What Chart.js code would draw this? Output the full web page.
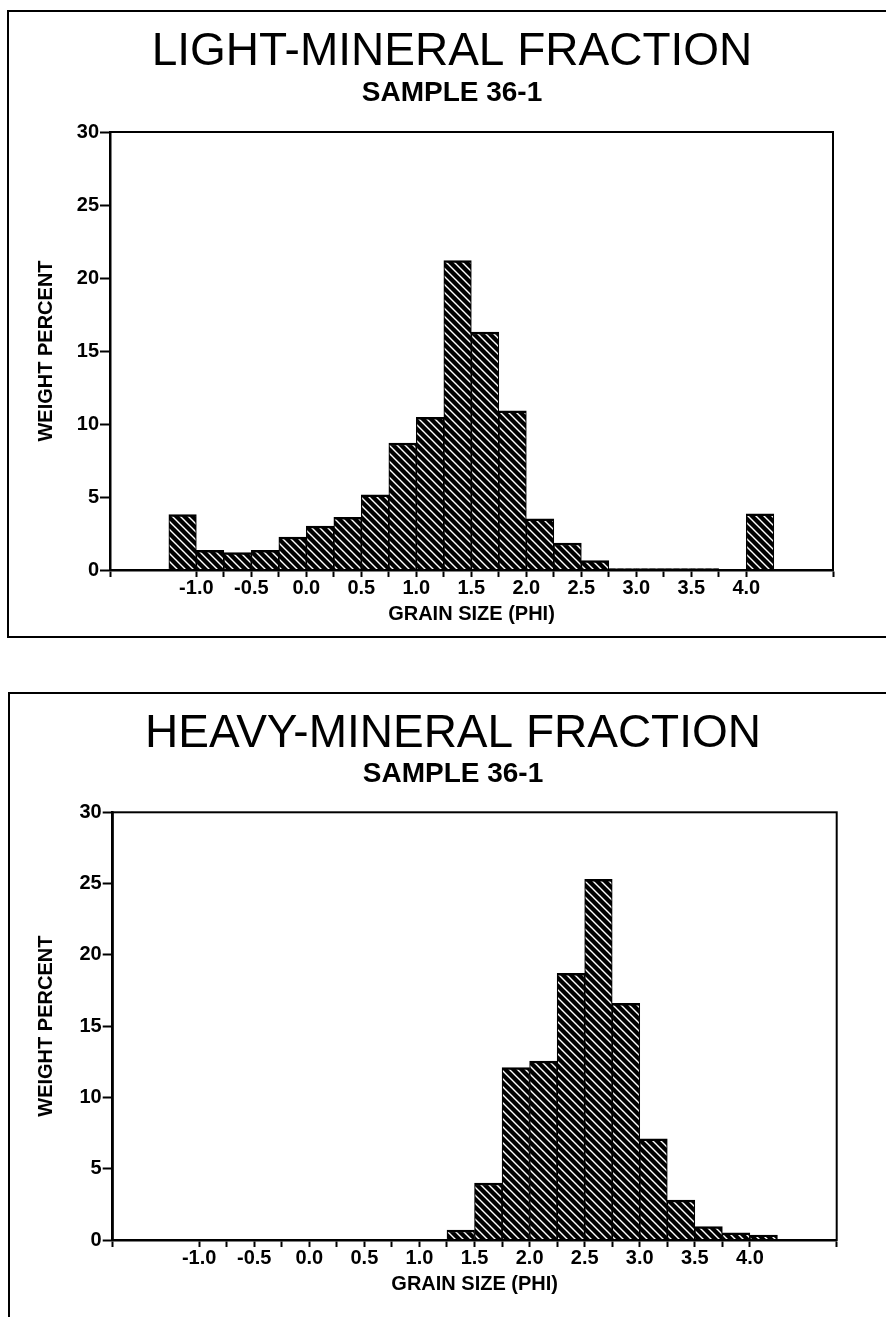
<!DOCTYPE html>
<html><head><meta charset="utf-8">
<script src="https://cdn.jsdelivr.net/npm/chart.js@4.4.1/dist/chart.umd.min.js"></script>
<style>
html,body{margin:0;padding:0;background:#fff;overflow:hidden;width:886px;height:1317px;}
.frame{position:absolute;box-sizing:border-box;border:2px solid #000;}
canvas{position:absolute;left:0;}
</style></head><body>
<div class="frame" style="left:7px;top:10px;width:930px;height:628px"></div>
<div class="frame" style="left:8px;top:692px;width:930px;height:700px"></div>
<canvas id="light" width="904" height="640" style="top:0px"></canvas>
<canvas id="heavy" width="906" height="637" style="top:680px"></canvas>
<script>
// ---- data ----
const binCenters = [-1.125, -0.875, -0.625, -0.375, -0.125, 0.125, 0.375, 0.625, 0.875, 1.125, 1.375,
                    1.625, 1.875, 2.125, 2.375, 2.625, 2.875, 3.125, 3.375, 3.625, 3.875, 4.125];
const lightWeightPercent = [3.8, 1.35, 1.2, 1.35, 2.25, 3.0, 3.6, 5.15, 8.7, 10.45, 21.2,
                            16.3, 10.9, 3.5, 1.85, 0.65, 0.1, 0.1, 0.1, 0.1, 0, 3.85];
const heavyWeightPercent = [0, 0, 0, 0, 0, 0, 0, 0, 0, 0, 0.7,
                            4.0, 12.1, 12.55, 18.7, 25.3, 16.6, 7.1, 2.8, 0.95, 0.5, 0.35];
const xTickValues = [-1.0, -0.75, -0.5, -0.25, 0.0, 0.25, 0.5, 0.75, 1.0, 1.25, 1.5, 1.75, 2.0,
                     2.25, 2.5, 2.75, 3.0, 3.25, 3.5, 3.75, 4.0];
const xTickLabels = ['-1.0', '', '-0.5', '', '0.0', '', '0.5', '', '1.0', '', '1.5', '', '2.0',
                     '', '2.5', '', '3.0', '', '3.5', '', '4.0'];
const yTickValues = [0, 5, 10, 15, 20, 25, 30];
const xMin = -1.785, xMax = 4.788;
const subtitleText = 'SAMPLE 36-1';

const FONT = "'Liberation Sans', Arial, Helvetica, sans-serif";

function makeHatch() {
  const p = 8;
  const c = document.createElement('canvas');
  c.width = p; c.height = p;
  const g = c.getContext('2d');
  g.fillStyle = '#000'; g.fillRect(0, 0, p, p);
  g.strokeStyle = '#fff'; g.lineWidth = 1.4;
  g.beginPath();
  g.moveTo(-1, -1); g.lineTo(p + 1, p + 1);
  g.moveTo(-1, p - 1); g.lineTo(1, p + 1);
  g.moveTo(p - 1, -1); g.lineTo(p + 1, 1);
  g.stroke();
  return g.createPattern(c, 'repeat');
}
const hatch = makeHatch();

const plotFrame = {
  id: 'plotFrame',
  afterDraw(chart) {
    const {ctx, chartArea: a} = chart;
    ctx.save();
    ctx.strokeStyle = '#000';
    ctx.lineWidth = 2;
    ctx.strokeRect(a.left, a.top, a.right - a.left, a.bottom - a.top);
    ctx.restore();
  }
};

function makeChart(id, titleText, values, g) {
  const bold20 = {family: FONT, size: 20, weight: 'bold', lineHeight: 1};
  return new Chart(document.getElementById(id), {
    type: 'bar',
    data: {
      datasets: [{
        data: binCenters.map((x, i) => ({x: x, y: values[i]})),
        backgroundColor: hatch,
        borderColor: '#000',
        borderWidth: {top: 2.5, left: 1.2, right: 1.2, bottom: 0},
        borderSkipped: 'start',
        barPercentage: 1,
        categoryPercentage: 1
      }]
    },
    options: {
      responsive: false,
      animation: false,
      events: [],
      layout: {padding: 0},
      plugins: {
        legend: {display: false},
        tooltip: {enabled: false},
        title: {
          display: true, text: titleText, color: '#000',
          font: {family: FONT, size: 46, weight: 'normal', lineHeight: 1},
          padding: {top: g.titleTop, bottom: 0}
        },
        subtitle: {
          display: true, text: subtitleText, color: '#000',
          font: {family: FONT, size: 28, weight: 'bold', lineHeight: 1},
          padding: {top: g.subTop, bottom: g.subBottom}
        }
      },
      scales: {
        x: {
          type: 'linear', min: xMin, max: xMax, offset: false,
          grid: {display: true, drawOnChartArea: false, drawTicks: true, tickLength: 7,
                 tickWidth: 2, tickColor: '#000', offset: false},
          border: {display: true, color: '#000', width: 2.5},
          ticks: {
            autoSkip: false, maxRotation: 0, minRotation: 0, padding: 1.5, color: '#000',
            font: bold20,
            callback: (v) => { const k = xTickValues.indexOf(v); return k >= 0 ? xTickLabels[k] : ''; }
          },
          afterBuildTicks: (s) => { s.ticks = [xMin].concat(xTickValues, [xMax]).map(v => ({value: v})); },
          afterFit: (s) => { s.height = g.xHeight; },
          title: {display: true, text: 'GRAIN SIZE (PHI)', color: '#000', font: bold20,
                  padding: {top: 0, bottom: g.xTitleBottom}}
        },
        y: {
          type: 'linear', position: 'left', min: 0, max: 30,
          grid: {display: true, drawOnChartArea: false, drawTicks: true, tickLength: 10,
                 tickWidth: 2, tickColor: '#000'},
          border: {display: true, color: '#000', width: 2.5},
          ticks: {padding: 1, color: '#000', font: bold20},
          afterBuildTicks: (s) => { s.ticks = yTickValues.map(v => ({value: v})); },
          afterFit: (s) => { s.width = g.leftW; },
          title: {display: true, text: 'WEIGHT PERCENT', color: '#000', font: bold20,
                  padding: {top: 36, bottom: 0}}
        },
        y2: {
          type: 'linear', position: 'right', display: true,
          grid: {display: false}, border: {display: false}, ticks: {display: false},
          afterFit: (s) => { s.width = g.rightW; }
        }
      }
    },
    plugins: [plotFrame]
  });
}

makeChart('light', 'LIGHT-MINERAL FRACTION', lightWeightPercent,
  {leftW: 110, rightW: 71, titleTop: 29.7, subTop: 3.3, subBottom: 25, xHeight: 70, xTitleBottom: 15.5});
makeChart('heavy', 'HEAVY-MINERAL FRACTION', heavyWeightPercent,
  {leftW: 112.7, rightW: 69.3, titleTop: 31, subTop: 3.6, subBottom: 23.7, xHeight: 77, xTitleBottom: 22.5});
</script>
</body></html>
